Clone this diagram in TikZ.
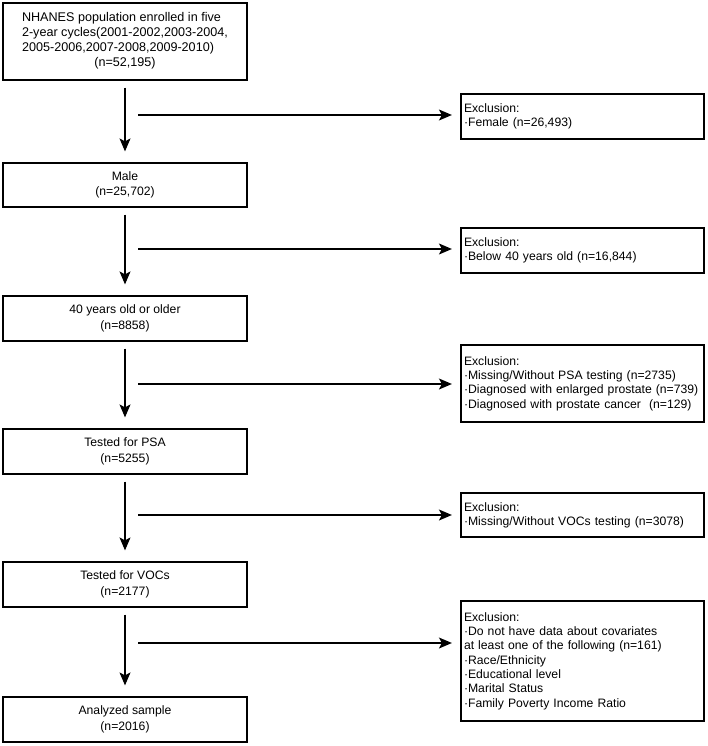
\documentclass[tikz,border=0pt]{standalone}
\usepackage{fontspec}
\setmainfont{Liberation Sans}
\usetikzlibrary{arrows.meta}
\begin{document}
\begin{tikzpicture}[x=1pt,y=-1pt,
  mainbox/.style={draw, line width=1.2pt, minimum width=244pt, inner sep=0pt, align=center,
    font=\fontsize{12.2}{15.6}\selectfont},
  exclbox/.style={draw, line width=1.2pt, minimum width=243pt, text width=237pt,
    inner xsep=3pt, inner ysep=0pt, align=left, font=\fontsize{12.2}{14.3}\selectfont},
  arr/.style={line width=1.1pt, -{Stealth[length=13pt,width=11pt,inset=3pt]}},
  varr/.style={arr, shorten <=7pt, shorten >=11pt},
  harr/.style={arr, shorten >=8.5pt}]
\useasboundingbox (0,0) rectangle (708,746);

% main boxes
\node[mainbox, minimum height=77pt, font=\fontsize{12.6}{15}\selectfont] (b1) at (125,41.5)
  {\begin{tabular}{@{}l@{}}NHANES population enrolled in five\\2-year cycles(2001-2002,2003-2004,\\2005-2006,2007-2008,2009-2010)\\\multicolumn{1}{@{}c@{}}{(n=52,195)}\end{tabular}};
\node[mainbox, minimum height=44pt] (b2) at (125,185) {Male\\(n=25,702)};
\node[mainbox, minimum height=45pt] (b3) at (125,318.5) {40 years old or older\\(n=8858)};
\node[mainbox, minimum height=45pt] (b4) at (125,451.5) {Tested for PSA\\(n=5255)};
\node[mainbox, minimum height=45pt] (b5) at (125,584.5) {Tested for VOCs\\(n=2177)};
\node[mainbox, minimum height=45pt] (b6) at (125,719.5) {Analyzed sample\\(n=2016)};

% exclusion boxes
\node[exclbox, minimum height=45pt] (e1) at (582.5,116.5) {Exclusion:\\·Female (n=26,493)};
\node[exclbox, minimum height=45pt] (e2) at (582.5,250.5) {Exclusion:\\·Below 40 years old (n=16,844)};
\node[exclbox, minimum height=77pt] (e3) at (582.5,383.5) {Exclusion:\\·Missing/Without PSA testing (n=2735)\\·Diagnosed with enlarged prostate (n=739)\\·Diagnosed with prostate cancer~ (n=129)};
\node[exclbox, minimum height=44pt] (e4) at (582.5,515) {Exclusion:\\·Missing/Without VOCs testing (n=3078)};
\node[exclbox, minimum height=120pt] (e5) at (582.5,661) {Exclusion:\\·Do not have data about covariates\\at least one of the following (n=161)\\·Race/Ethnicity\\·Educational level\\·Marital Status\\·Family Poverty Income Ratio};

% vertical arrows
\draw[varr] (b1) -- (b2);
\draw[varr] (b2) -- (b3);
\draw[varr] (b3) -- (b4);
\draw[varr] (b4) -- (b5);
\draw[varr] (b5) -- (b6);

% horizontal arrows
\coordinate (h1) at (138,115);
\coordinate (h2) at (138,249);
\coordinate (h3) at (138,384);
\coordinate (h4) at (138,515);
\coordinate (h5) at (138,643);
\draw[harr] (h1) -- (h1 -| e1.west);
\draw[harr] (h2) -- (h2 -| e2.west);
\draw[harr] (h3) -- (h3 -| e3.west);
\draw[harr] (h4) -- (h4 -| e4.west);
\draw[harr] (h5) -- (h5 -| e5.west);
\end{tikzpicture}
\end{document}
